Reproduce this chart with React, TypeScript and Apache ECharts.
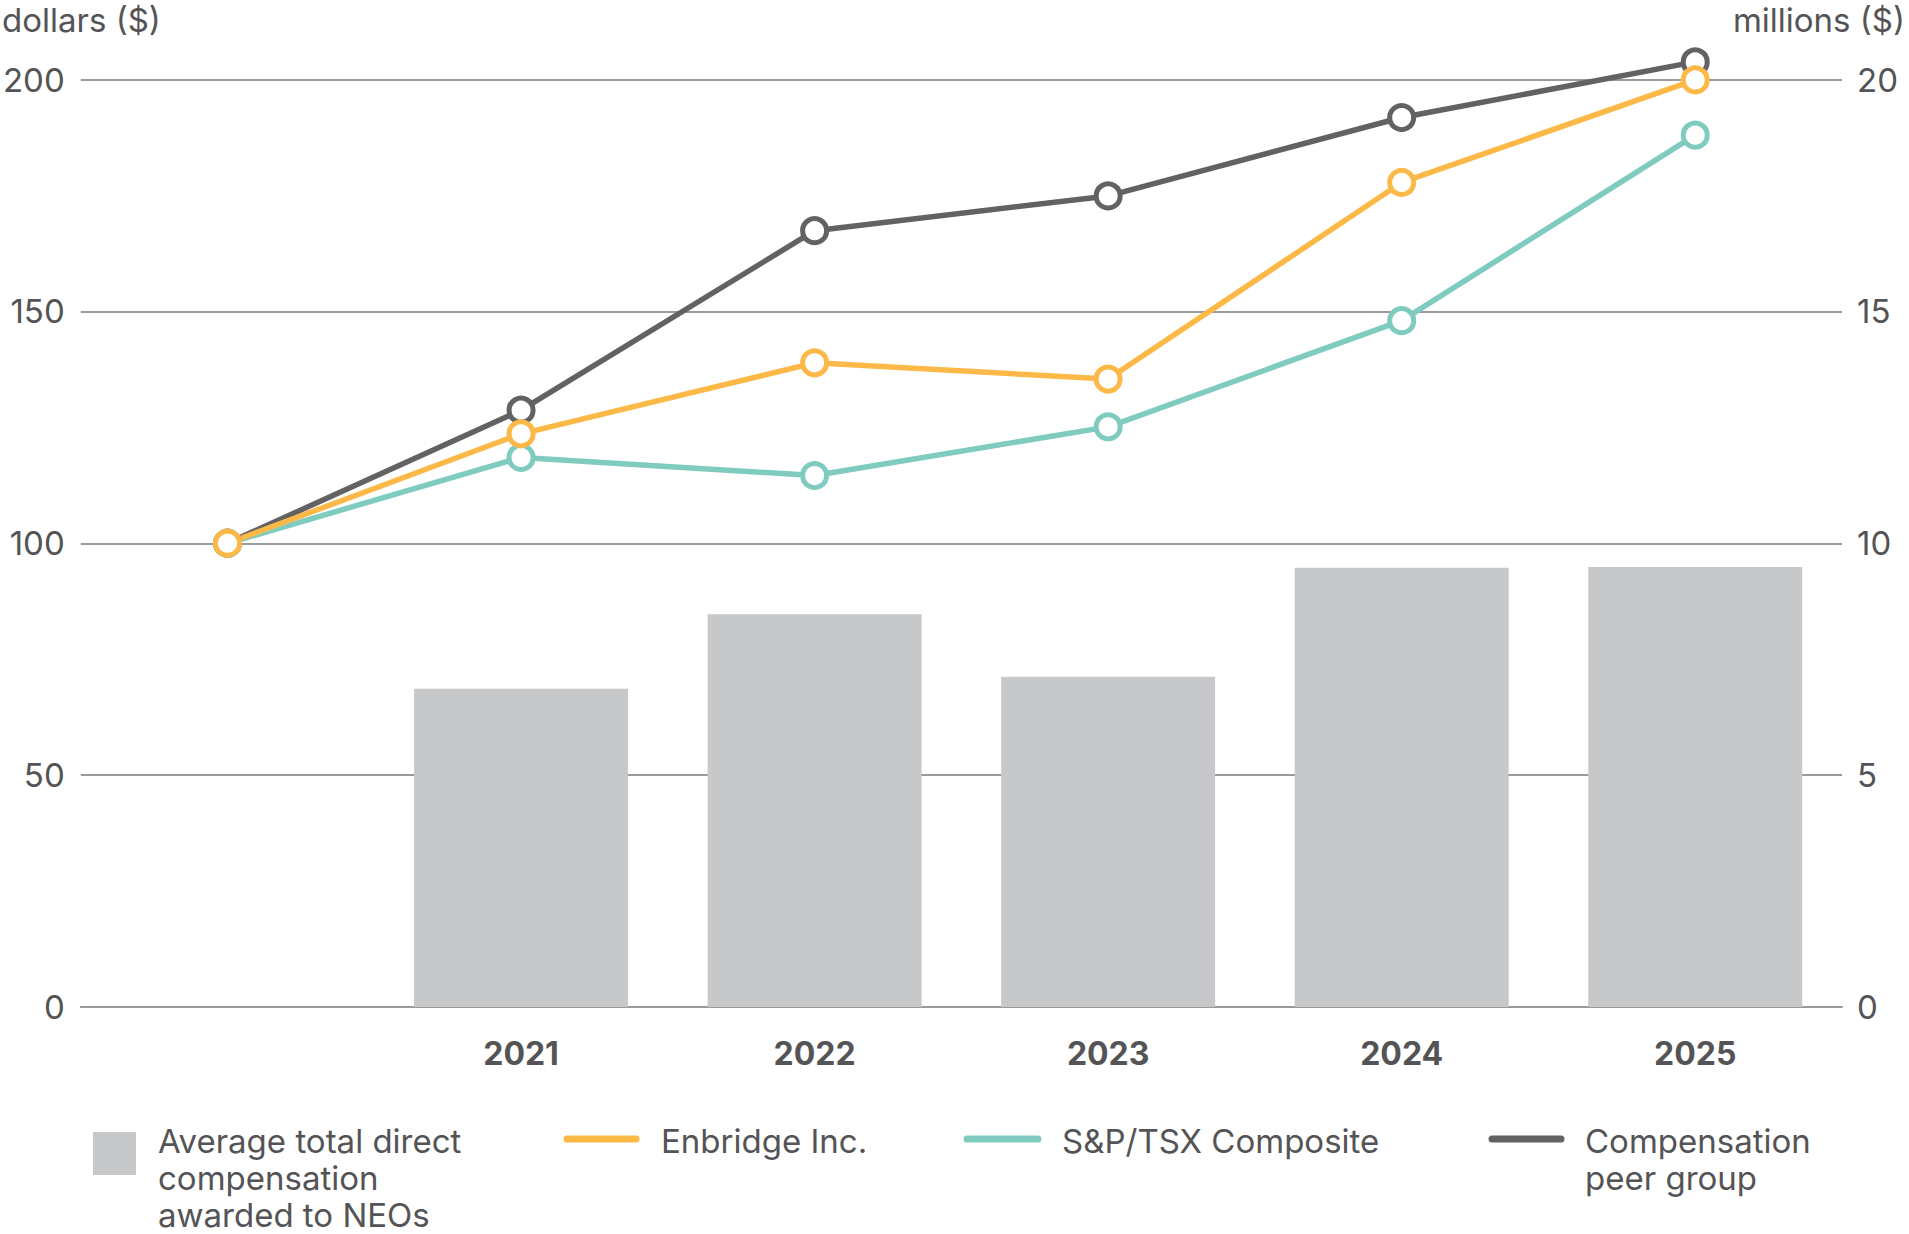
import React, { useEffect, useRef } from "react";
import * as echarts from "echarts";

const categories = ["", "2021", "2022", "2023", "2024", "2025"];
const compensation = [null, 6.86, 8.47, 7.12, 9.47, 9.49];
const enbridge = [100, 123.6, 138.9, 135.4, 177.8, 199.9];
const tsx = [100, 118.5, 114.6, 125.1, 148.0, 188.0];
const peerGroup = [100, 128.7, 167.4, 174.9, 191.8, 203.8];

const leftTicks = { min: 0, max: 200, interval: 50 };
const rightTicks = { min: 0, max: 20, interval: 5 };

const legendNames = {
  bar: "Average total direct\ncompensation\nawarded to NEOs",
  enbridge: "Enbridge Inc.",
  tsx: "S&P/TSX Composite",
  peer: "Compensation\npeer group",
};

const COLORS = {
  bar: "#c7c8ca",
  enbridge: "#fcb947",
  tsx: "#7fcbc0",
  peer: "#626262",
  text: "#545456",
  grid: "#9a9a9a",
};

const FONT = "Inter, 'DejaVu Sans', sans-serif";
const FS = 33;

export default function App() {
  const ref = useRef<HTMLDivElement>(null);

  useEffect(() => {
    if (!ref.current) return;
    const chart = echarts.init(ref.current, null, { renderer: "svg" });
    const textStyle = { fontFamily: FONT, fontSize: FS, color: COLORS.text };
    const legendText = (x: number, text: string) => ({
      type: "text",
      x,
      y: 1122,
      style: {
        text,
        fill: COLORS.text,
        font: `${FS}px ${FONT}`,
        lineHeight: 37,
        verticalAlign: "top",
        align: "left",
      },
    });
    const legendLine = (x1: number, x2: number, color: string) => ({
      type: "line",
      shape: { x1, y1: 1139, x2, y2: 1139 },
      style: { stroke: color, lineWidth: 7, lineCap: "round" },
    });
    const lineSeries = (name: string, data: number[], color: string) => ({
      type: "line",
      name,
      data,
      yAxisIndex: 0,
      clip: false,
      symbol: "circle",
      symbolSize: 24,
      showSymbol: true,
      lineStyle: { color, width: 5.5 },
      itemStyle: { color: "#ffffff", borderColor: color, borderWidth: 5 },
    });

    chart.setOption({
      animation: false,
      backgroundColor: "#ffffff",
      textStyle: { fontFamily: FONT },
      grid: { left: 79, right: 67, top: 79.5, bottom: 227, containLabel: false },
      xAxis: {
        type: "category",
        data: categories,
        boundaryGap: true,
        axisTick: { show: false },
        axisLine: { show: true, lineStyle: { color: COLORS.grid, width: 2 } },
        axisLabel: {
          margin: 30,
          fontFamily: FONT,
          fontSize: 32,
          fontWeight: "bold",
          color: COLORS.text,
        },
      },
      yAxis: [
        {
          type: "value",
          ...leftTicks,
          position: "left",
          axisLine: { show: false },
          axisTick: { show: false },
          axisLabel: { ...textStyle, margin: 16 },
          splitLine: { show: true, lineStyle: { color: COLORS.grid, width: 2 } },
        },
        {
          type: "value",
          ...rightTicks,
          position: "right",
          axisLine: { show: false },
          axisTick: { show: false },
          axisLabel: { ...textStyle, margin: 15 },
          splitLine: { show: false },
        },
      ],
      series: [
        {
          type: "bar",
          name: "Average total direct compensation awarded to NEOs",
          data: compensation,
          yAxisIndex: 1,
          barWidth: 214,
          itemStyle: { color: COLORS.bar },
        },
        lineSeries("Compensation peer group", peerGroup, COLORS.peer),
        lineSeries("S&P/TSX Composite", tsx, COLORS.tsx),
        lineSeries("Enbridge Inc.", enbridge, COLORS.enbridge),
      ],
      graphic: [
        {
          type: "text",
          x: 2,
          y: 20,
          style: {
            text: "dollars ($)",
            fill: COLORS.text,
            font: `${FS}px ${FONT}`,
            verticalAlign: "middle",
            align: "left",
          },
        },
        {
          type: "text",
          x: 1905,
          y: 20,
          style: {
            text: "millions ($)",
            fill: COLORS.text,
            font: `${FS}px ${FONT}`,
            verticalAlign: "middle",
            align: "right",
          },
        },
        {
          type: "rect",
          shape: { x: 93, y: 1132, width: 43, height: 43 },
          style: { fill: COLORS.bar },
        },
        legendText(158, legendNames.bar),
        legendLine(567, 636, COLORS.enbridge),
        legendText(661, legendNames.enbridge),
        legendLine(967, 1038, COLORS.tsx),
        legendText(1062, legendNames.tsx),
        legendLine(1492, 1561, COLORS.peer),
        legendText(1585, legendNames.peer),
      ],
    });

    return () => chart.dispose();
  }, []);

  return (
    <div
      ref={ref}
      style={{ position: "fixed", left: 0, top: 0, width: 1909, height: 1234 }}
    />
  );
}
